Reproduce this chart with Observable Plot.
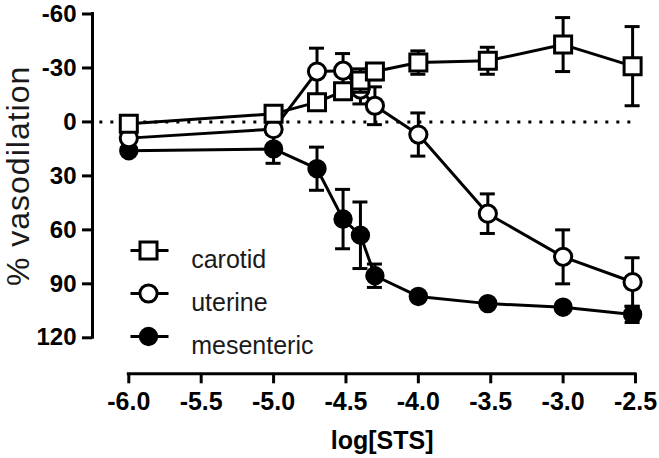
<!DOCTYPE html>
<html><head><meta charset="utf-8">
<script src="https://cdn.jsdelivr.net/npm/d3@7"></script>
<script src="https://cdn.jsdelivr.net/npm/@observablehq/plot@0.6"></script>
<style>
body{margin:0;background:#fff;}
#chart svg{display:block;}
</style></head><body><div id="chart"></div>
<script>
// ---- data ----
const logSTS        = [-6, -5, -4.7, -4.52, -4.4, -4.3, -4, -3.52, -3, -2.52];
const carotid       = [1, -4.5, -11, -17, -23, -28, -33, -34, -43, -31];
const carotidErr    = [1.5, 2, 3, 3, 6.5, 4.5, 6.5, 7.5, 15, 22];
const uterine       = [9, 4, -28, -28.5, -18, -9, 7, 51, 75, 89];
const uterineErr    = [2, 2, 13, 9.5, 8, 10.5, 12, 11, 15, 13.5];
const mesenteric    = [16, 15, 26, 54, 63, 85.5, 97, 101, 103, 107];
const mesentericErr = [1.5, 8, 12, 16.5, 18.5, 6.5, 2, 1.5, 2, 4.5];
const seriesNames   = ["carotid", "uterine", "mesenteric"];
const xTicks = [-6, -5.5, -5, -4.5, -4, -3.5, -3, -2.5];
const yTicks = [-60, -30, 0, 30, 60, 90, 120];
const xDomain = [-6, -2.5];
const yDomain = [-60, 120];
const zeroLine = [{y: 0, from: -6.2, to: -2.5}];
const yTitle = "% vasodilation";
const xTitle = "log[STS]";

// ---- layout ----
const W = 659, H = 458;
const marginLeft = 92, marginTop = 13.5, marginRight = 24, marginBottom = 84.7;
const xRange = [128.3, W - marginRight];
const yRange = [marginTop, 337.3];
const axisGapX = xRange[0] - marginLeft;          // detached y axis
const axisGapY = (H - marginBottom) - yRange[1];  // detached x axis

const valuesBy = {carotid, uterine, mesenteric};
const errBy = {carotid: carotidErr, uterine: uterineErr, mesenteric: mesentericErr};
const styleBy = {
  carotid:    {symbol: "square", r: 9.6, fill: "white"},
  uterine:    {symbol: "circle", r: 8.6, fill: "white"},
  mesenteric: {symbol: "circle", r: 8.2, fill: "black"}
};
const rowsBy = Object.fromEntries(seriesNames.map(s => [s,
  logSTS.map((x, i) => ({series: s, x, y: valuesBy[s][i], lo: valuesBy[s][i] - errBy[s][i], hi: valuesBy[s][i] + errBy[s][i]}))]));

const SW = 3;
const seriesMarks = name => {
  const rows = rowsBy[name], st = styleBy[name];
  return [
    Plot.ruleX(rows, {x: "x", y1: "lo", y2: "hi", stroke: "black", strokeWidth: SW}),
    Plot.ruleY(rows, {y: "lo", x1: "x", x2: "x", insetLeft: -7.5, insetRight: -7.5, stroke: "black", strokeWidth: SW}),
    Plot.ruleY(rows, {y: "hi", x1: "x", x2: "x", insetLeft: -7.5, insetRight: -7.5, stroke: "black", strokeWidth: SW}),
    Plot.line(rows, {x: "x", y: "y", stroke: "black", strokeWidth: SW}),
    Plot.dot(rows, {x: "x", y: "y", symbol: st.symbol, r: st.r, fill: st.fill, stroke: "black", strokeWidth: SW})
  ];
};

const legendLine = {draw(ctx) { ctx.moveTo(-19, 0); ctx.lineTo(19, 0); }};
const legendRowsY = [236.5, 279.5, 322.5];
const legendMarks = seriesNames.flatMap((name, i) => {
  const st = styleBy[name];
  const base = {frameAnchor: "top-left", dy: legendRowsY[i]};
  return [
    Plot.dot([name], {...base, dx: 57, symbol: legendLine, r: 5, fill: "none", stroke: "black", strokeWidth: SW}),
    Plot.dot([name], {...base, dx: 56, symbol: st.symbol, r: st.r, fill: st.fill, stroke: "black", strokeWidth: SW}),
    Plot.text([name], {...base, dx: 98.7, text: d => d, textAnchor: "start", fontSize: 25, fill: "#1a1a1a"})
  ];
});

const chart = Plot.plot({
  width: W, height: H,
  marginLeft, marginTop, marginRight, marginBottom,
  style: {fontFamily: "Arial, 'Liberation Sans', sans-serif", background: "white", color: "black"},
  x: {domain: xDomain, range: xRange},
  y: {domain: yDomain, range: yRange},
  marks: [
    Plot.ruleY(zeroLine, {y: "y", x1: "from", x2: "to", stroke: "black", strokeWidth: 3, strokeDasharray: "3,8"}),
    ...seriesMarks("mesenteric"),
    ...seriesMarks("uterine"),
    ...seriesMarks("carotid"),
    Plot.axisY({ticks: yTicks, tickFormat: d => String(d), tickSize: 10, tickPadding: 6, strokeWidth: SW, fontSize: 24, fontWeight: "bold", label: null}),
    Plot.axisX({ticks: xTicks, tickFormat: d => d.toFixed(1), tickSize: 10, tickPadding: 8, strokeWidth: SW, fontSize: 25, fontWeight: "bold", label: null}),
    Plot.ruleX([xDomain[0]], {y1: yDomain[0], y2: yDomain[1], dx: -axisGapX, stroke: "black", strokeWidth: SW, strokeLinecap: "square"}),
    Plot.ruleY([yDomain[1]], {x1: xDomain[0], x2: xDomain[1], dy: axisGapY, stroke: "black", strokeWidth: SW, strokeLinecap: "square"}),
    Plot.text([yTitle], {frameAnchor: "left", rotate: -90, textAnchor: "middle", dx: 18 - marginLeft, dy: -18, fontSize: 32, fill: "#1a1a1a", text: d => d, style: "letter-spacing:1px"}),
    Plot.text([xTitle], {frameAnchor: "bottom", textAnchor: "middle", dx: (xRange[0] + xRange[1]) / 2 - (marginLeft + xRange[1]) / 2, dy: 66.7, lineAnchor: "middle", fontSize: 25, fontWeight: "bold", text: d => d}),
    ...legendMarks
  ]
});
chart.querySelectorAll("text").forEach(t => { if (t.textContent === yTitle) t.style.letterSpacing = "1px"; });
document.getElementById("chart").append(chart);
</script></body></html>
